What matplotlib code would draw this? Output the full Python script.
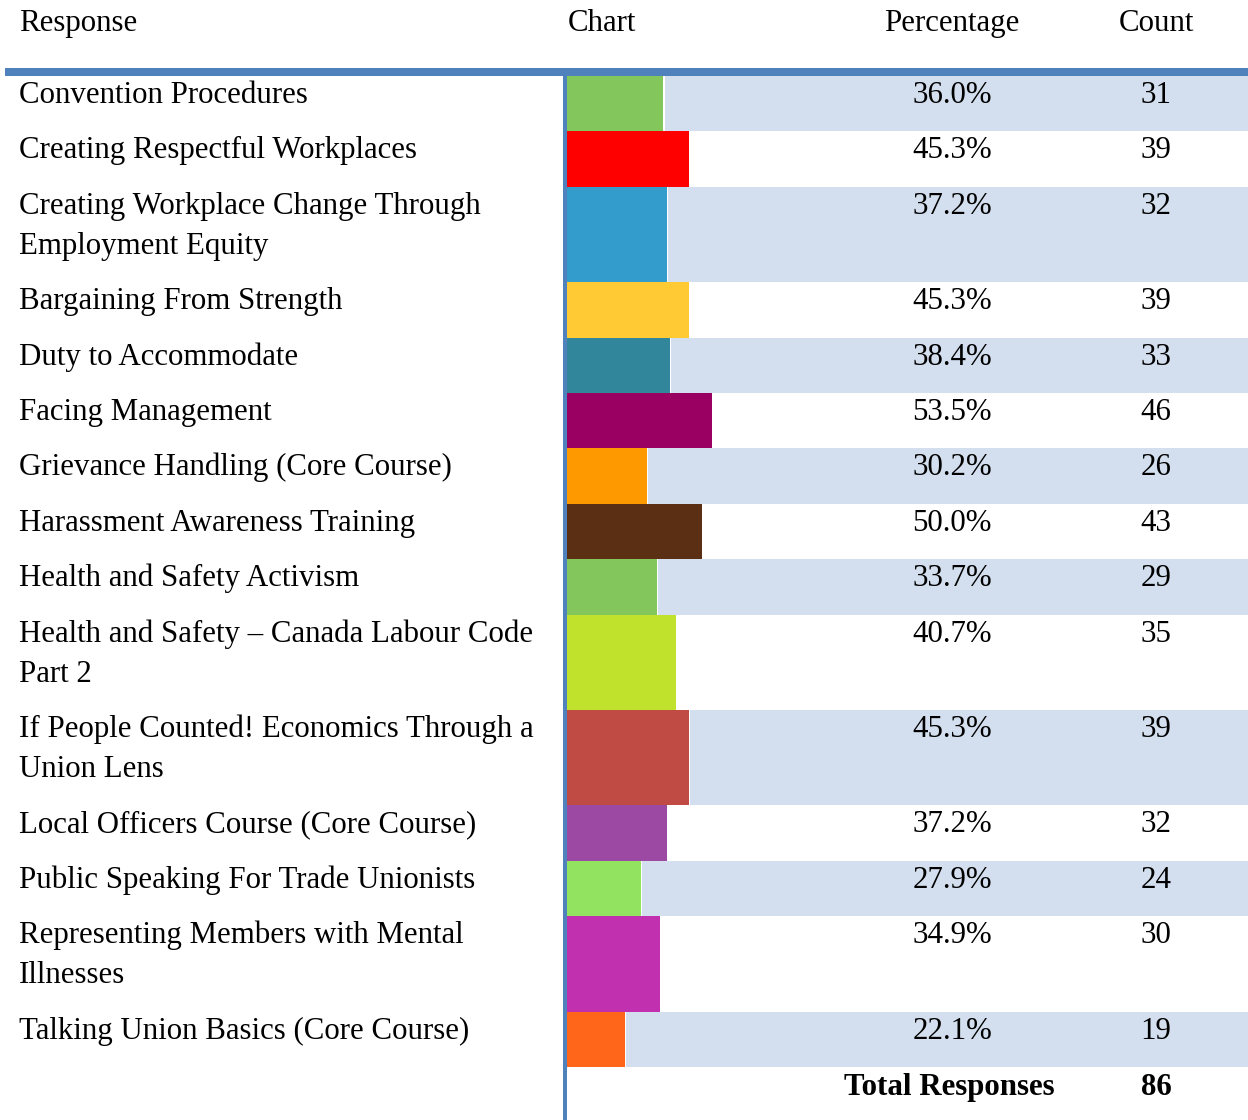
import matplotlib
matplotlib.use("Agg")
import matplotlib.pyplot as plt

# ---------------- data ----------------
responses = [
    "Convention Procedures",
    "Creating Respectful Workplaces",
    "Creating Workplace Change Through\nEmployment Equity",
    "Bargaining From Strength",
    "Duty to Accommodate",
    "Facing Management",
    "Grievance Handling (Core Course)",
    "Harassment Awareness Training",
    "Health and Safety Activism",
    "Health and Safety \u2013 Canada Labour Code\nPart 2",
    "If People Counted! Economics Through a\nUnion Lens",
    "Local Officers Course (Core Course)",
    "Public Speaking For Trade Unionists",
    "Representing Members with Mental\nIllnesses",
    "Talking Union Basics (Core Course)",
]
percentages = [36.0, 45.3, 37.2, 45.3, 38.4, 53.5, 30.2, 50.0, 33.7, 40.7,
               45.3, 37.2, 27.9, 34.9, 22.1]
counts = [31, 39, 32, 39, 33, 46, 26, 43, 29, 35, 39, 32, 24, 30, 19]
total_responses = 86
headers = ["Response", "Chart", "Percentage", "Count"]
bar_colors = ["#83C65B", "#FF0000", "#339CCC", "#FFCA33", "#31869B", "#990061",
              "#FF9900", "#5A2F14", "#83C65B", "#C0E22C", "#C04B45", "#9B49A3",
              "#92E35F", "#C030AF", "#FF661A"]

# ---------------- layout (pixels) ----------------
W, H = 1248, 1120
FONT = "Liberation Serif"
FS = 22.2
shade = "#D3DFEE"
rule = "#4F81BD"
table_top = 76
line_h = 40.0
row_pad = 15.4
bar_x0 = 563          # pixel where the value axis starts
px_per_pct = 2.785
label_x = 19
pct_x = 952
count_x = 1156
base_off = 27

fig = plt.figure(figsize=(W / 100, H / 100), dpi=100)

# row geometry
tops, heights = [], []
y = table_top
for r in responses:
    n = r.count("\n") + 1
    h = row_pad + line_h * n
    tops.append(y)
    heights.append(h)
    y += h
table_bottom = y

# bar axes: x in percent units
ax_bar = fig.add_axes([bar_x0 / W, 0, (W - bar_x0) / W, 1])
xmax = (W - bar_x0) / px_per_pct
ax_bar.set_xlim(0, xmax)
ax_bar.set_ylim(H, 0)
ax_bar.axis("off")
centers = [t + h / 2 for t, h in zip(tops, heights)]
ax_bar.barh(centers, percentages, height=heights, left=0, color=bar_colors,
            linewidth=0)
gap = 0.45
for i, (c, h, p) in enumerate(zip(centers, heights, percentages)):
    if i % 2 == 0:
        ax_bar.barh(c, xmax - p - gap, height=h, left=p + gap, color=shade,
                    linewidth=0)

# overlay axes in pixel coordinates for text and rules
ax = fig.add_axes([0, 0, 1, 1])
ax.set_xlim(0, W)
ax.set_ylim(H, 0)
ax.axis("off")
ax.patch.set_alpha(0)

# header rule and vertical rule
ax.fill_between([5, W], 68, 75.5, color=rule, linewidth=0)
ax.fill_between([562.5, 566.5], table_top, H, color=rule, linewidth=0)

tkw = dict(fontfamily=FONT, fontsize=FS, color="black", va="baseline")
# headers
ax.text(label_x, 31, headers[0], ha="left", **tkw)
ax.text(568, 31, headers[1], ha="left", **tkw)
ax.text(pct_x, 31, headers[2], ha="center", **tkw)
ax.text(count_x, 31, headers[3], ha="center", **tkw)

for t, r, p, c in zip(tops, responses, percentages, counts):
    for k, line in enumerate(r.split("\n")):
        ax.text(label_x, t + base_off + k * line_h, line, ha="left", **tkw)
    ax.text(pct_x, t + base_off, f"{p:.1f}%", ha="center", **tkw)
    ax.text(count_x, t + base_off, f"{c}", ha="center", **tkw)

ax.text(1055, table_bottom + 28, "Total Responses", ha="right",
        fontweight="bold", **tkw)
ax.text(count_x, table_bottom + 28, f"{total_responses}", ha="center",
        fontweight="bold", **tkw)

fig.savefig("out.png", dpi=100)
